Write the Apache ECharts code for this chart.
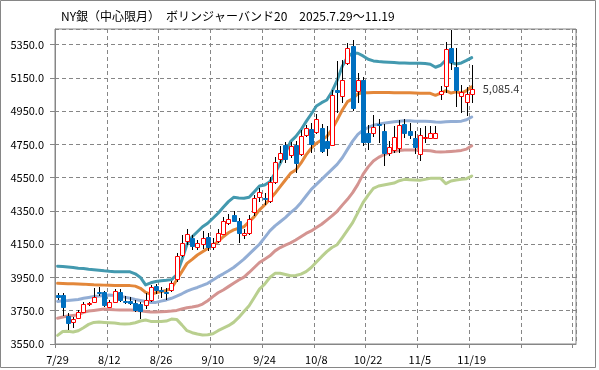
<!DOCTYPE html>
<html><head><meta charset="utf-8">
<script src="https://cdn.jsdelivr.net/npm/echarts@6/dist/echarts.min.js"></script>
<style>html,body{margin:0;padding:0;background:#fff}#c{width:599px;height:370px}</style>
</head><body><div id="c"></div>
<script>
const titleText = 'NY銀（中心限月）　ボリンジャーバンド20　2025.7.29～11.19';
const dates = ['7/29','7/30','7/31','8/1','8/4','8/5','8/6','8/7','8/8','8/11',
 '8/12','8/13','8/14','8/15','8/18','8/19','8/20','8/21','8/22','8/25',
 '8/26','8/27','8/28','8/29','9/2','9/3','9/4','9/5','9/8','9/9',
 '9/10','9/11','9/12','9/15','9/16','9/17','9/18','9/19','9/22','9/23',
 '9/24','9/25','9/26','9/29','9/30','10/1','10/2','10/3','10/6','10/7',
 '10/8','10/9','10/10','10/13','10/14','10/15','10/16','10/17','10/20','10/21',
 '10/22','10/23','10/24','10/27','10/28','10/29','10/30','10/31','11/3','11/4',
 '11/5','11/6','11/7','11/10','11/11','11/12','11/13','11/14','11/17','11/18',
 '11/19'];
const openP = [3845,3846,3720,3680,3708,3744,3788,3805,3860,3860,
 3770,3800,3860,3810,3808,3795,3788,3785,3815,3900,
 3875,3862,3875,3939,4085,4171,4185,4135,4150,4195,
 4135,4168,4212,4276,4326,4290,4204,4216,4342,4432,
 4430,4412,4526,4660,4747,4686,4747,4693,4807,4843,
 4827,4847,4771,4747,5077,5041,5240,5342,5073,5137,
 4817,4817,4870,4831,4697,4717,4727,4873,4831,4787,
 4691,4787,4787,4787,5051,5102,5328,5218,5041,5007,
 5055];
const closeP = [3830,3774,3675,3700,3744,3788,3798,3834,3855,3785,
 3805,3868,3815,3800,3798,3755,3750,3815,3895,3875,
 3870,3858,3918,4080,4159,4212,4140,4160,4190,4135,
 4160,4218,4290,4302,4292,4216,4216,4300,4426,4466,
 4420,4526,4646,4700,4660,4740,4637,4802,4847,4753,
 4901,4713,4727,5047,5063,5137,5328,4967,5137,4767,
 4767,4857,4865,4697,4737,4797,4867,4817,4807,4737,
 4807,4797,4817,4817,5073,5322,5248,5078,5067,5051,
 5085.4];
const lowP = [3812,3720,3635,3645,3700,3735,3780,3798,3840,3775,
 3765,3795,3800,3790,3785,3745,3700,3760,3805,3850,
 3825,3815,3860,3925,4075,4145,4115,4115,4120,4110,
 4115,4160,4205,4265,4285,4155,4180,4205,4320,4406,
 4385,4400,4510,4640,4640,4670,4578,4680,4795,4700,
 4815,4700,4680,4740,4940,5000,5230,4950,5000,4740,
 4718,4795,4760,4620,4680,4700,4700,4790,4780,4690,
 4650,4760,4780,4780,5015,5060,5200,4975,4940,4920,
 4998];
const highP = [3858,3855,3735,3712,3752,3800,3805,3885,3890,3868,
 3815,3880,3880,3840,3832,3812,3800,3855,3905,3910,
 3895,3887,3930,4100,4205,4240,4205,4175,4230,4215,
 4185,4240,4315,4330,4350,4305,4240,4325,4446,4486,
 4455,4556,4676,4740,4765,4765,4770,4838,4867,4880,
 4930,4870,4858,5077,5254,5260,5360,5378,5177,5157,
 4865,4925,4900,4870,4770,4860,4897,4905,4880,4830,
 4850,4860,4860,4860,5100,5365,5440,5330,5110,5095,
 5228];
const bandUp2 = [4018,4016,4013,4010,4006,4004,4000,3997,3994,3990,
 3987,3985,3985,3985,3984,3972,3950,3905,3918,3926,
 3930,3933,3937,3965,4055,4150,4195,4225,4255,4276,
 4306,4336,4372,4406,4432,4428,4426,4432,4466,4500,
 4506,4526,4576,4637,4697,4767,4797,4837,4887,4933,
 4981,5001,5017,5067,5135,5220,5275,5300,5298,5282,
 5262,5252,5248,5246,5244,5242,5240,5240,5238,5238,
 5238,5236,5232,5214,5226,5258,5242,5234,5240,5255,
 5272];
const bandUp1 = [3915,3914,3913,3912,3911,3910,3908,3906,3905,3904,
 3903,3902,3902,3902,3901,3898,3885,3860,3850,3858,
 3865,3872,3885,3935,3985,4035,4059,4085,4105,4125,
 4145,4165,4195,4219,4236,4246,4255,4286,4316,4356,
 4386,4420,4456,4496,4536,4576,4596,4637,4687,4727,
 4757,4777,4797,4841,4897,4957,5007,5024,5055,5061,
 5061,5062,5062,5062,5062,5061,5060,5060,5060,5059,
 5058,5058,5057,5045,5058,5073,5059,5066,5059,5074,
 5097];
const bandMid = [3806,3810,3812,3815,3818,3825,3830,3835,3838,3842,
 3845,3842,3838,3832,3825,3818,3812,3806,3800,3800,
 3808,3815,3825,3838,3852,3868,3880,3890,3902,3915,
 3935,3955,3972,3990,4010,4035,4060,4090,4120,4150,
 4190,4230,4260,4285,4310,4340,4365,4400,4440,4480,
 4510,4540,4570,4600,4630,4670,4720,4770,4810,4835,
 4852,4865,4872,4878,4882,4886,4890,4892,4892,4890,
 4890,4890,4888,4885,4884,4886,4888,4888,4890,4898,
 4915];
const bandLo1 = [3705,3712,3718,3722,3726,3740,3748,3752,3756,3760,
 3758,3756,3755,3754,3754,3753,3750,3745,3742,3742,
 3744,3746,3748,3752,3760,3768,3772,3778,3790,3810,
 3835,3858,3875,3895,3915,3935,3952,3980,4010,4040,
 4060,4080,4110,4130,4145,4158,4175,4195,4215,4230,
 4250,4270,4295,4320,4348,4385,4420,4460,4510,4570,
 4615,4650,4672,4688,4700,4708,4714,4716,4716,4716,
 4715,4714,4712,4706,4705,4706,4708,4710,4714,4722,
 4742];
const bandLo2 = [3602,3625,3626,3622,3630,3648,3668,3680,3682,3680,
 3678,3676,3672,3670,3672,3678,3688,3694,3686,3685,
 3685,3688,3700,3698,3665,3630,3618,3610,3604,3606,
 3612,3630,3645,3660,3680,3710,3745,3780,3830,3880,
 3910,3950,3975,3975,3968,3960,3962,3970,3985,4010,
 4043,4075,4105,4130,4147,4190,4235,4280,4340,4400,
 4445,4486,4500,4506,4512,4518,4532,4540,4538,4536,
 4534,4540,4546,4546,4546,4514,4530,4536,4540,4544,
 4560];

const FONT = 'Noto Sans CJK JP';
const GRAY = '#868686';
const chart = echarts.init(document.getElementById('c'), null, {renderer: 'canvas'});
const xy = arr => arr.map((v, i) => [i + 0.5, v]);
const candleData = dates.map((d, i) => [i + 0.5, openP[i], closeP[i], lowP[i], highP[i]]);
const lastIdx = dates.length - 1;

function bandSeries(data, color) {
  return {type: 'line', data: xy(data), showSymbol: false, silent: true, z: 2,
    lineStyle: {color: color, width: 3, cap: 'round', join: 'round'}};
}

chart.setOption({
  animation: false,
  backgroundColor: '#fff',
  textStyle: {fontFamily: FONT},
  title: {text: titleText, left: 61, top: 10, padding: 0,
    textStyle: {fontSize: 12, fontWeight: 'normal', color: '#000', fontFamily: FONT}},
  grid: {left: 55, right: 23, top: 29, bottom: 26, show: true, borderColor: GRAY, borderWidth: 1, backgroundColor: '#fff'},
  xAxis: {type: 'value', min: 0, max: 100.64, interval: 10,
    axisLine: {show: true, lineStyle: {color: GRAY}},
    axisTick: {show: true, length: 4, lineStyle: {color: GRAY}},
    splitLine: {show: true, lineStyle: {color: GRAY, type: [4, 3], width: 1}},
    axisLabel: {color: '#000', fontSize: 11, fontFamily: FONT, margin: 10, padding: [0, 0, 0, 5],
      showMaxLabel: false,
      formatter: v => { const i = Math.round(v); return (Math.abs(v - i) < 1e-6 && i % 10 === 0 && i < dates.length) ? dates[i] : ''; }}
  },
  yAxis: {type: 'value', min: 3550, max: 5444, interval: 200,
    axisLine: {show: true, lineStyle: {color: GRAY}},
    axisTick: {show: true, length: 5, lineStyle: {color: GRAY}},
    splitLine: {show: true, lineStyle: {color: GRAY, type: [4, 3], width: 1}},
    axisLabel: {color: '#000', fontSize: 11, fontFamily: FONT, margin: 11, showMaxLabel: false,
      formatter: v => v.toFixed(1)}
  },
  graphic: [{type: 'rect', shape: {x: 0.5, y: 0.5, width: 595, height: 367}, z: 100,
    style: {fill: 'none', stroke: GRAY, lineWidth: 1}, silent: true}],
  series: [
    bandSeries(bandLo2, '#B9CF8F'),
    bandSeries(bandLo1, '#D49491'),
    bandSeries(bandMid, '#93AED5'),
    bandSeries(bandUp1, '#E3873A'),
    bandSeries(bandUp2, '#4399AF'),
    {type: 'custom', z: 5, silent: true, data: candleData,
      encode: {x: 0, y: [1, 2, 3, 4]},
      renderItem: function (params, api) {
        const x = api.value(0), o = api.value(1), c = api.value(2), l = api.value(3), h = api.value(4);
        const pO = api.coord([x, o]), pC = api.coord([x, c]), pL = api.coord([x, l]), pH = api.coord([x, h]);
        const cx = Math.round(pO[0]) + 0.5;
        const top = Math.round(Math.min(pO[1], pC[1])) + 0.5;
        const bot = Math.round(Math.max(pO[1], pC[1])) + 0.5;
        const up = c >= o;
        return {type: 'group', children: [
          {type: 'line', shape: {x1: cx, y1: Math.round(pH[1]), x2: cx, y2: Math.round(pL[1])},
            style: {stroke: '#000', lineWidth: 1}},
          {type: 'rect', shape: {x: cx - 2, y: top, width: 4, height: Math.max(bot - top, 1)},
            style: up ? {fill: '#fff', stroke: '#FF0000', lineWidth: 1} : {fill: '#0070C0', stroke: '#0070C0', lineWidth: 1}}
        ]};
      }
    },
    {type: 'scatter', z: 6, silent: true, symbolSize: 0, data: [[lastIdx + 0.5, closeP[lastIdx]]],
      label: {show: true, position: 'right', distance: 11, color: '#000', fontSize: 11, fontFamily: FONT,
        formatter: p => p.value[1].toLocaleString('en-US', {minimumFractionDigits: 1, maximumFractionDigits: 1})}}
  ]
});
</script>
</body></html>
